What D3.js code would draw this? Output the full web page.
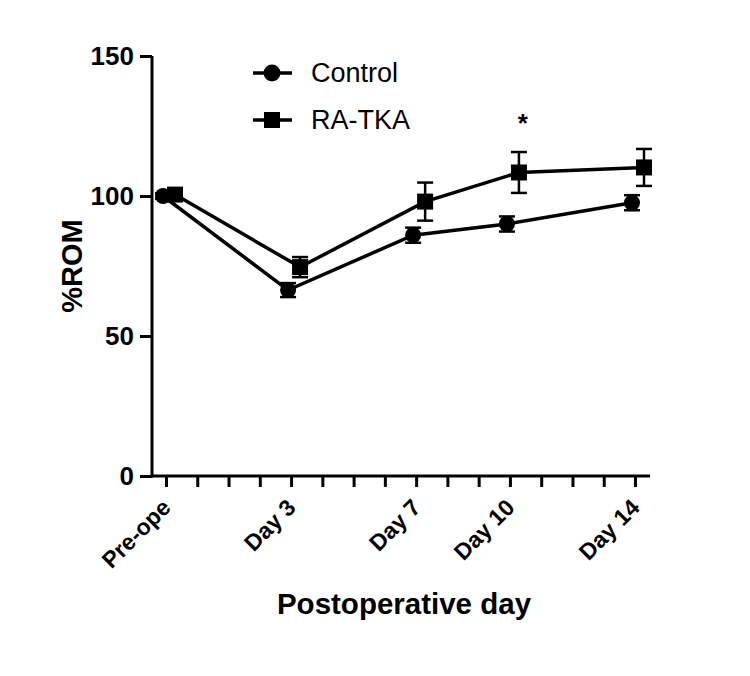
<!DOCTYPE html>
<html>
<head>
<meta charset="utf-8">
<script src="https://cdn.jsdelivr.net/npm/d3@7"></script>
<style>
  body { margin: 0; background: #fff; }
  text { font-family: "Liberation Sans", Arial, sans-serif; }
</style>
</head>
<body>
<div id="chart"></div>
<script>
// data
var days = [-1, 3, 7, 10, 14];
var dayLabels = ["Pre-ope", "Day 3", "Day 7", "Day 10", "Day 14"];
var controlMean = [100, 66.4, 86, 90, 97.6];
var controlSem = [1.0, 2.5, 2.7, 2.7, 2.7];
var raMean = [100.5, 74.6, 98, 108.4, 110.2];
var raSem = [1.0, 3.6, 6.8, 7.3, 6.6];
var yTicks = [0, 50, 100, 150];

var width = 750, height = 676;

var svg = d3.select('#chart').append('svg')
    .attr('width', width)
    .attr('height', height);

var x = d3.scaleLinear().domain([-1, 14]).range([166, 635]);
var y = d3.scaleLinear().domain([0, 150]).range([476, 56]);

// y axis
var yAxis = d3.axisLeft(y).tickValues(yTicks).tickSize(12).tickPadding(6);
var gy = svg.append('g')
    .attr('transform', 'translate(152,0)')
    .call(yAxis);
gy.select('.domain').attr('d', 'M0,' + (y(150)) + 'V' + (y(0) + 1.5));
gy.selectAll('.tick text')
    .style('font-size', '26px').style('font-weight', 'bold')
    .style('font-family', '"Liberation Sans", Arial, sans-serif')
    .attr('fill', '#000');

// x axis, a tick every day
var xAxis = d3.axisBottom(x).tickValues(d3.range(-1, 15)).tickSize(11).tickFormat('');
var gx = svg.append('g')
    .attr('transform', 'translate(0,' + y(0) + ')')
    .call(xAxis);
gx.select('.domain').attr('d', 'M150.5,0H650');

svg.selectAll('.domain, .tick line')
    .attr('stroke', '#000')
    .attr('stroke-width', 3);

// category labels
svg.append('g').selectAll('text')
    .data(days)
    .enter().append('text')
    .attr('transform', function (d) {
        return 'translate(' + (x(d) + 6) + ',' + (y(0) + 33) + ') rotate(-45)';
    })
    .attr('text-anchor', 'end')
    .style('font-size', '23px')
    .style('font-weight', 'bold')
    .text(function (d, i) { return dayLabels[i]; });

// axis titles
svg.append('text')
    .attr('transform', 'translate(82,' + y(75) + ') rotate(-90)')
    .attr('text-anchor', 'middle')
    .style('font-size', '29px')
    .style('font-weight', 'bold')
    .text('%ROM');

svg.append('text')
    .attr('x', 404).attr('y', 614)
    .attr('text-anchor', 'middle')
    .style('font-size', '29.5px')
    .style('font-weight', 'bold')
    .text('Postoperative day');

// series
var series = [
    { name: 'Control', mean: controlMean, sem: controlSem, shape: 'circle', dx: -3 },
    { name: 'RA-TKA', mean: raMean, sem: raSem, shape: 'square', dx: 9 }
];

var line = d3.line()
    .x(function (d) { return d.px; })
    .y(function (d) { return y(d.v); });

series.forEach(function (s) {
    var pts = days.map(function (d, i) {
        return { px: x(d) + s.dx, v: s.mean[i], e: s.sem[i] };
    });
    var g = svg.append('g');

    g.append('path')
        .attr('d', line(pts))
        .attr('fill', 'none')
        .attr('stroke', '#000')
        .attr('stroke-width', 3.5);

    // error bars
    var eb = g.selectAll('.eb').data(pts).enter().append('g');
    eb.append('line')
        .attr('x1', function (d) { return d.px; })
        .attr('x2', function (d) { return d.px; })
        .attr('y1', function (d) { return y(d.v + d.e); })
        .attr('y2', function (d) { return y(d.v - d.e); })
        .attr('stroke', '#000').attr('stroke-width', 2.5);
    [1, -1].forEach(function (sg) {
        eb.append('line')
            .attr('x1', function (d) { return d.px - 8; })
            .attr('x2', function (d) { return d.px + 8; })
            .attr('y1', function (d) { return y(d.v + sg * d.e); })
            .attr('y2', function (d) { return y(d.v + sg * d.e); })
            .attr('stroke', '#000').attr('stroke-width', 2.5);
    });

    // markers
    if (s.shape === 'circle') {
        g.selectAll('.m').data(pts).enter().append('circle')
            .attr('cx', function (d) { return d.px; })
            .attr('cy', function (d) { return y(d.v); })
            .attr('r', 8)
            .attr('fill', '#000');
    } else {
        g.selectAll('.m').data(pts).enter().append('rect')
            .attr('x', function (d) { return d.px - 8; })
            .attr('y', function (d) { return y(d.v) - 8; })
            .attr('width', 16).attr('height', 16)
            .attr('fill', '#000');
    }
});

// significance mark
svg.append('text')
    .attr('x', x(10) + 13).attr('y', 132)
    .attr('text-anchor', 'middle')
    .style('font-size', '26px')
    .style('font-weight', 'bold')
    .text('*');

// legend
var legend = svg.append('g');
series.forEach(function (s, i) {
    var ly = 73 + i * 47;
    legend.append('line')
        .attr('x1', 253).attr('x2', 292)
        .attr('y1', ly).attr('y2', ly)
        .attr('stroke', '#000').attr('stroke-width', 3.5);
    if (s.shape === 'circle') {
        legend.append('circle').attr('cx', 272).attr('cy', ly).attr('r', 8.5).attr('fill', '#000');
    } else {
        legend.append('rect').attr('x', 264).attr('y', ly - 8).attr('width', 16).attr('height', 16).attr('fill', '#000');
    }
    legend.append('text')
        .attr('x', 311).attr('y', ly + 9)
        .style('font-size', '27px')
        .text(s.name);
});
</script>
</body>
</html>
